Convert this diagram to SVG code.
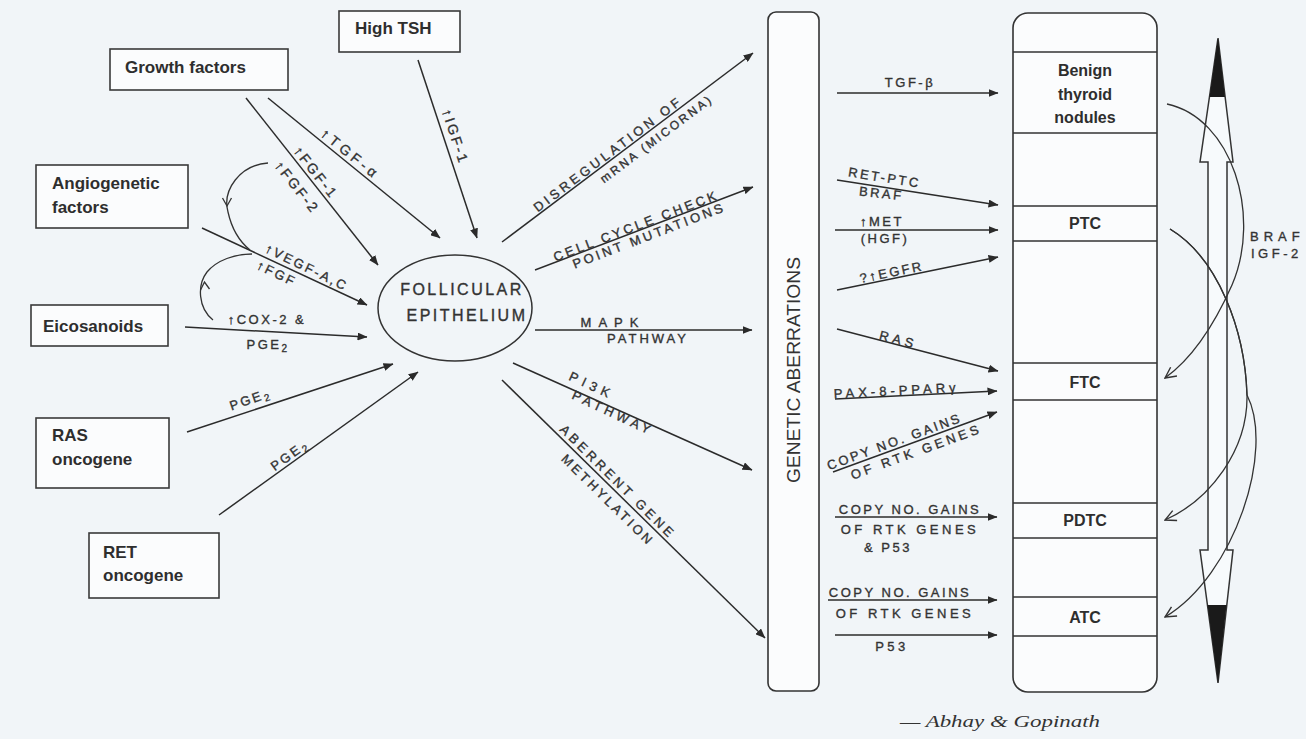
<svg xmlns="http://www.w3.org/2000/svg" width="1306" height="739" viewBox="0 0 1306 739">
<defs>
<marker id="ah" viewBox="0 0 10 8" refX="9.5" refY="4" markerWidth="10" markerHeight="8" markerUnits="userSpaceOnUse" orient="auto"><path d="M0,0 L10,4 L0,8 z" fill="#2a2a2a"/></marker>
<marker id="oh" viewBox="0 0 12 12" refX="11" refY="6" markerWidth="13" markerHeight="13" markerUnits="userSpaceOnUse" orient="auto"><path d="M1,1 L11,6 L1,11" fill="none" stroke="#333" stroke-width="1.3"/></marker>
<style>
.bg{fill:#f1f5f8}
.box{fill:#fbfcfd;stroke:#3a3a3a;stroke-width:1.6}
.bl{font-family:"Liberation Sans",Arial,sans-serif;font-weight:bold;font-size:17px;fill:#2e2e2e}
.blc{font-family:"Liberation Sans",Arial,sans-serif;font-weight:bold;font-size:16px;fill:#2e2e2e;text-anchor:middle}
.c{stroke:#2b2b2b;stroke-width:1.5;fill:none}
.a{marker-end:url(#ah)}
.o{marker-end:url(#oh)}
.thin{stroke:#333;stroke-width:1.3;fill:none}
.h{font-family:"Liberation Sans",Arial,sans-serif;font-size:13px;letter-spacing:2.5px;fill:#333;stroke:#333;stroke-width:0.35px;text-anchor:middle}
.sub{font-size:10px}
</style>
</defs>
<rect class="bg" x="0" y="0" width="1306" height="739"/>

<g id="high-tsh"><rect class="box" x="339" y="11" width="121" height="41"/><text class="bl" x="355" y="34">High TSH</text></g>
<g id="growth-factors"><rect class="box" x="110" y="49" width="178" height="41"/><text class="bl" x="125" y="73">Growth factors</text></g>
<g id="angiogenetic-factors"><rect class="box" x="36" y="165" width="152" height="63"/><text class="bl" x="52" y="189">Angiogenetic</text><text class="bl" x="52" y="213">factors</text></g>
<g id="eicosanoids"><rect class="box" x="31" y="305" width="137" height="41"/><text class="bl" x="43" y="332">Eicosanoids</text></g>
<g id="ras-oncogene"><rect class="box" x="36" y="418" width="133" height="70"/><text class="bl" x="52" y="441">RAS</text><text class="bl" x="52" y="465">oncogene</text></g>
<g id="ret-oncogene"><rect class="box" x="89" y="533" width="130" height="65"/><text class="bl" x="103" y="558">RET</text><text class="bl" x="103" y="581">oncogene</text></g>

<g id="follicular-epithelium"><ellipse cx="455" cy="308" rx="77" ry="53" fill="none" stroke="#333" stroke-width="1.5"/><text class="h" x="462" y="295" style="font-size:16px;letter-spacing:2.5px">FOLLICULAR</text><text class="h" x="467" y="321" style="font-size:16px;letter-spacing:2.5px">EPITHELIUM</text></g>

<g id="genetic-aberrations"><rect x="768" y="12" width="51" height="679" rx="8" fill="#fbfcfd" stroke="#333" stroke-width="1.6"/><text transform="translate(800,370) rotate(-90)" text-anchor="middle" font-family="Liberation Sans, Arial, sans-serif" font-size="19" fill="#333" textLength="226" lengthAdjust="spacingAndGlyphs">GENETIC  ABERRATIONS</text></g>

<g id="stages">
<rect x="1013" y="13" width="144" height="679" rx="15" fill="#fbfcfd" stroke="#333" stroke-width="1.6"/>
<g stroke="#333" stroke-width="1.4">
<line x1="1013" y1="52" x2="1157" y2="52"/><line x1="1013" y1="133" x2="1157" y2="133"/>
<line x1="1013" y1="206" x2="1157" y2="206"/><line x1="1013" y1="241" x2="1157" y2="241"/>
<line x1="1013" y1="363" x2="1157" y2="363"/><line x1="1013" y1="400" x2="1157" y2="400"/>
<line x1="1013" y1="503" x2="1157" y2="503"/><line x1="1013" y1="538" x2="1157" y2="538"/>
<line x1="1013" y1="597" x2="1157" y2="597"/><line x1="1013" y1="636" x2="1157" y2="636"/>
</g>
<g id="benign"><text class="blc" x="1085" y="76">Benign</text><text class="blc" x="1085" y="100">thyroid</text><text class="blc" x="1085" y="123">nodules</text></g>
<g id="ptc"><text class="blc" x="1085" y="229">PTC</text></g>
<g id="ftc"><text class="blc" x="1085" y="388">FTC</text></g>
<g id="pdtc"><text class="blc" x="1085" y="526">PDTC</text></g>
<g id="atc"><text class="blc" x="1085" y="623">ATC</text></g>
</g>

<g id="progression-arrow">
<polygon points="1218,38 1233,162 1227,162 1227,550 1233,550 1218,683 1200,550 1208,550 1208,162 1200,162" fill="#f7fafc" stroke="#333" stroke-width="1.5"/>
<polygon points="1218,38 1225,97 1209.5,97" fill="#1a1a1a"/>
<polygon points="1218,683 1226.5,605 1207.5,605" fill="#1a1a1a"/>
</g>

<g id="connectors">
<line class="c a" x1="268" y1="98" x2="440" y2="238"/>
<line class="c a" x1="246" y1="98" x2="378" y2="265"/>
<line class="c a" x1="418" y1="60" x2="477" y2="238"/>
<line class="c a" x1="202" y1="228" x2="367" y2="305"/>
<line class="c a" x1="185" y1="327" x2="367" y2="337"/>
<line class="c a" x1="187" y1="432" x2="393" y2="364"/>
<line class="c a" x1="219" y1="515" x2="418" y2="372"/>
<path class="thin" d="M268,163 C240,165 222,190 228,212 C232,230 240,242 250,250"/>
<polyline class="thin" points="222.5,198 227,206 231.5,198"/>
<path class="thin" d="M213,320 C198,308 197,285 207,272 C217,260 235,254 252,254"/>
<polyline class="thin" points="200.5,290 204.5,282 209.5,289"/>

<line class="c a" x1="502" y1="242" x2="753" y2="53"/>
<line class="c a" x1="535" y1="270" x2="753" y2="187"/>
<line class="c a" x1="535" y1="330" x2="752" y2="330"/>
<line class="c a" x1="513" y1="363" x2="752" y2="470"/>
<line class="c a" x1="502" y1="380" x2="765" y2="638"/>

<line class="c a" x1="837" y1="93" x2="998" y2="93"/>
<line class="c a" x1="837" y1="180" x2="998" y2="205"/>
<line class="c a" x1="835" y1="230" x2="998" y2="230"/>
<line class="c a" x1="837" y1="290" x2="998" y2="257"/>
<line class="c a" x1="837" y1="329" x2="998" y2="371"/>
<line class="c a" x1="835" y1="399" x2="997" y2="391"/>
<line class="c a" x1="833" y1="472" x2="997" y2="412"/>
<line class="c a" x1="835" y1="517" x2="997" y2="517"/>
<line class="c a" x1="828" y1="600" x2="997" y2="600"/>
<line class="c a" x1="835" y1="635" x2="997" y2="635"/>

<path class="thin o" d="M1167,104 C1232,118 1262,215 1232,285 C1212,330 1190,360 1165,378"/>
<path class="thin o" d="M1170,229 C1218,258 1245,330 1247,395 C1248,450 1210,500 1165,520"/>
<path class="thin o" d="M1170,229 C1218,258 1245,330 1247,395 C1275,450 1235,575 1165,617"/>

<g class="labels">
<text class="h" transform="translate(345,161) rotate(39)" y="-4" style="font-size:14px;letter-spacing:4px">↑TGF-α</text>
<text class="h" transform="translate(309,178) rotate(52)" y="-4" style="font-size:14px">↑FGF-1</text>
<text class="h" transform="translate(309,178) rotate(52)" y="20" style="font-size:14px">↑FGF-2</text>
<text class="h" transform="translate(445,140) rotate(72)" y="-6" style="font-size:14px">↑IGF-1</text>
<text class="h" transform="translate(303,275) rotate(26)" y="-4">↑VEGF-A,C</text>
<text class="h" transform="translate(281,265) rotate(26)" y="14">↑FGF</text>
<text class="h" x="267" y="324">↑COX-2 &amp;</text>
<text class="h" x="268" y="349">PGE<tspan class="sub" dy="3">2</tspan></text>
<text class="h" transform="translate(254,410) rotate(-19)" y="-7">PGE<tspan class="sub" dy="3">2</tspan></text>
<text class="h" transform="translate(294,461) rotate(-36)" y="-3">PGE<tspan class="sub" dy="3">2</tspan></text>

<text class="h" transform="translate(612,159) rotate(-37)" y="-2" style="letter-spacing:3.5px">DISREGULATION OF</text>
<text class="h" transform="translate(650,130) rotate(-37)" y="15" style="font-size:12px">mRNA (MICORNA)</text>
<text class="h" transform="translate(638,231) rotate(-21)" y="-1" style="letter-spacing:3px">CELL CYCLE CHECK</text>
<text class="h" transform="translate(646,227.5) rotate(-21)" y="13" style="letter-spacing:3px">POINT MUTATIONS</text>
<text class="h" x="613" y="327" style="letter-spacing:7px">MAPK</text>
<text class="h" x="648" y="343" style="letter-spacing:3px">PATHWAY</text>
<text class="h" transform="translate(587,396) rotate(25)" y="-7" style="letter-spacing:5px">PI3K</text>
<text class="h" transform="translate(615,409) rotate(25)" y="9" style="letter-spacing:4px">PATHWAY</text>
<text class="h" transform="translate(612,488) rotate(44.5)" y="-4" style="letter-spacing:3.5px">ABERRENT GENE</text>
<text class="h" transform="translate(616,492) rotate(44.5)" y="16" style="letter-spacing:3px">METHYLATION</text>

<text class="h" x="910" y="87">TGF-β</text>
<text class="h" transform="translate(883,187) rotate(9)" y="-5">RET-PTC</text>
<text class="h" transform="translate(882,187) rotate(6)" y="11">BRAF</text>
<text class="h" x="882" y="226">↑MET</text>
<text class="h" x="885" y="243">(HGF)</text>
<text class="h" transform="translate(893,278.5) rotate(-11.6)" y="-2">?↑EGFR</text>
<text class="h" transform="translate(897,345) rotate(14.6)" y="-1" style="letter-spacing:4px">RAS</text>
<text class="h" transform="translate(897,396) rotate(-3)" y="-1" style="letter-spacing:4px">PAX-8-PPARγ</text>
<text class="h" transform="translate(897,448.6) rotate(-20.1)" y="-3">COPY NO. GAINS</text>
<text class="h" transform="translate(913,442.7) rotate(-20.1)" y="14" style="letter-spacing:3.5px">OF RTK GENES</text>
<text class="h" x="910" y="514">COPY NO. GAINS</text>
<text class="h" x="910" y="534" style="letter-spacing:3.5px">OF RTK GENES</text>
<text class="h" x="888" y="552">&amp; P53</text>
<text class="h" x="900" y="597">COPY NO. GAINS</text>
<text class="h" x="905" y="618" style="letter-spacing:3.5px">OF RTK GENES</text>
<text class="h" x="892" y="651" style="letter-spacing:3.5px">P53</text>
<text class="h" x="1250" y="241" style="text-anchor:start;letter-spacing:5px">BRAF</text>
<text class="h" x="1251" y="258" style="text-anchor:start;letter-spacing:3.5px">IGF-2</text>
</g>
</g>

<text x="900" y="727" font-family="Liberation Serif, Times New Roman, serif" font-style="italic" font-size="16" fill="#333" textLength="200" lengthAdjust="spacingAndGlyphs">— Abhay &amp; Gopinath</text>
</svg>
